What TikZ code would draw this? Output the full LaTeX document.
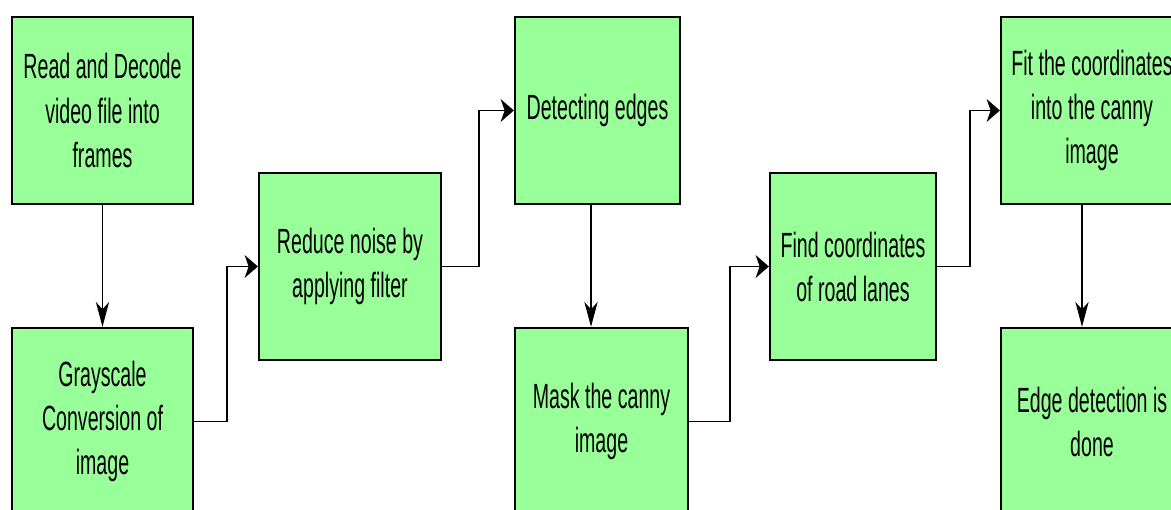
\documentclass[tikz,border=0pt]{standalone}
\usepackage{fontspec}
\setmainfont{Liberation Sans}[FakeStretch=0.56]
\usepackage{tikz}
\usetikzlibrary{positioning, arrows.meta, calc}

\begin{document}
\begin{tikzpicture}[x=0.025cm, y=-0.025cm, font=\fontsize{24.9pt}{31.3pt}\selectfont]
                    \definecolor{boxgreen}{RGB}{153, 255, 153}
                    \tikzset{stepbox/.style={draw=black, line width=1.6pt, fill=boxgreen, inner sep=0pt, align=center, minimum height=4.675cm},
                             hflow/.style={line width=1.3pt, -{Stealth[length=0.33cm, width=0.57cm, inset=0.1cm]}},
                             vflow/.style={line width=1.3pt, -{Stealth[length=0.62cm, width=0.33cm, inset=0.18cm]}}}
                    \useasboundingbox (0,0) rectangle (1171,510);
                    \clip (0,0) rectangle (1171,510);

                    \node[stepbox, minimum width=4.525cm] (read) at (102.5,110.5) {Read and Decode\\video file into\\frames};
                    \node[stepbox, minimum width=4.525cm] (gray) at (102.5,421.5) {Grayscale\\Conversion of\\image};
                    \node[stepbox, minimum width=4.55cm] (noise) at (350,266.5) {Reduce noise by\\applying filter};
                    \node[stepbox, minimum width=4.125cm] (edges) at (597.5,110.5) {Detecting edges};
                    \node[stepbox, minimum width=4.325cm] (mask) at (601.5,421.5) {Mask the canny\\image};
                    \node[stepbox, minimum width=4.15cm] (lanes) at (853,266.5) {Find coordinates\\of road lanes};
                    \node[stepbox, minimum width=4.55cm] (fit) at (1092,110.5) {Fit the coordinates\\into the canny\\image};
                    \node[stepbox, minimum width=4.55cm] (done) at (1092,421.5) {Edge detection is\\done};

                    % connectors
                    \coordinate (edgesout) at ($(edges.south)+(-6.5,0)$);
                    \coordinate (fitout) at ($(fit.south)+(-10,0)$);
                    \draw[vflow] (read.south) -- (gray.north);
                    \draw[hflow] (gray.east) -- ++(33,0) |- (noise.west);
                    \draw[hflow] (noise.east) -- ++(37,0) |- (edges.west);
                    \draw[vflow] (edgesout) -- (edgesout |- mask.north);
                    \draw[hflow] (mask.east) -- ++(41,0) |- (lanes.west);
                    \draw[hflow] (lanes.east) -- ++(33,0) |- (fit.west);
                    \draw[vflow] (fitout) -- (fitout |- done.north);
                \end{tikzpicture}
\end{document}
